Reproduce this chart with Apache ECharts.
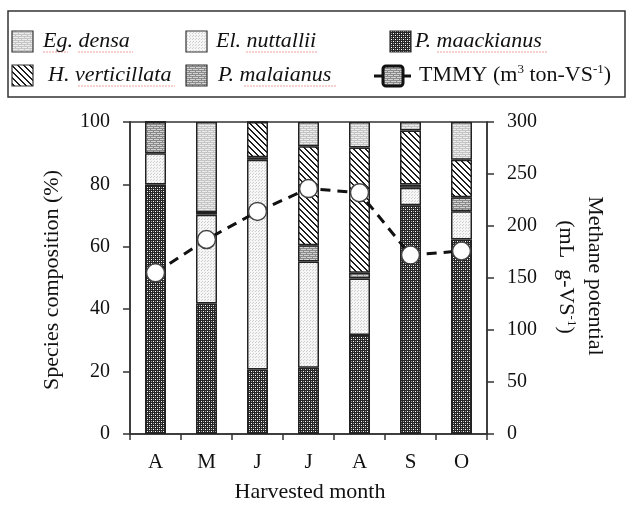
<!DOCTYPE html>
<html>
<head>
<meta charset="utf-8">
<script src="https://cdn.jsdelivr.net/npm/echarts@6/dist/echarts.min.js"></script>
<style>
    html, body { margin: 0; padding: 0; background: #fff; }
    #chart { width: 628px; height: 507px; }
</style>
</head>
<body>
<div id="chart"></div>
<script>
    var months = ['A', 'M', 'J', 'J', 'A', 'S', 'O'];
    // species composition (%), stacked bottom -> top
    var maackianus   = [80.0, 41.8, 20.7, 21.2, 31.7, 73.3, 62.3];
    var nuttallii    = [10.0, 28.5, 67.2, 34.1, 18.1,  5.6,  9.1];
    var malaianus    = [10.0,  0.8,  0.8,  5.2,  1.9,  1.1,  4.5];
    var verticillata = [ 0.0,  0.0, 11.3, 31.7, 40.1, 17.3, 12.0];
    var densa        = [ 0.0, 28.9,  0.0,  7.8,  8.2,  2.7, 12.1];
    // methane potential (mL g-VS-1)
    var tmmy = [155, 187, 214, 236, 232, 172, 176];
    var leftTicks = [0, 20, 40, 60, 80, 100];
    var rightTicks = [0, 50, 100, 150, 200, 250, 300];

    var serif = '"Liberation Serif", "DejaVu Serif", serif';

    // small canvas patterns for the bar fills
    function makePattern(w, h, draw) {
        var c = document.createElement('canvas');
        c.width = w;
        c.height = h;
        draw(c.getContext('2d'));
        return { image: c, repeat: 'repeat' };
    }
    var patMaack = makePattern(4, 4, function (g) {
        g.fillStyle = '#262626'; g.fillRect(0, 0, 4, 4);
        g.fillStyle = '#ffffff'; g.fillRect(1, 1, 1, 1); g.fillRect(3, 3, 1, 1);
        g.fillStyle = '#9a9a9a'; g.fillRect(1, 3, 1, 1); g.fillRect(3, 1, 1, 1);
    });
    var patNutt = makePattern(3, 3, function (g) {
        g.fillStyle = '#f6f6f6'; g.fillRect(0, 0, 3, 3);
        g.fillStyle = '#cfcfcf'; g.fillRect(0, 0, 1, 1); g.fillRect(1, 2, 1, 1);
    });
    var patMal = makePattern(6, 4, function (g) {
        g.fillStyle = '#d2d2d2'; g.fillRect(0, 0, 6, 4);
        g.fillStyle = '#8a8a8a';
        g.fillRect(0, 0, 6, 1); g.fillRect(0, 2, 6, 1);
        g.fillRect(0, 1, 1, 1); g.fillRect(3, 3, 1, 1);
    });
    var patVert = makePattern(6, 6, function (g) {
        g.fillStyle = '#ffffff'; g.fillRect(0, 0, 6, 6);
        g.fillStyle = '#1e1e1e';
        for (var i = 0; i < 6; i++) {
            g.fillRect(i, i, 1, 1);
            g.fillRect((i + 1) % 6, i, 1, 1);
        }
    });
    var patDensa = makePattern(6, 4, function (g) {
        g.fillStyle = '#ececec'; g.fillRect(0, 0, 6, 4);
        g.fillStyle = '#c4c4c4';
        g.fillRect(0, 0, 6, 1); g.fillRect(0, 2, 6, 1);
        g.fillRect(0, 1, 1, 1); g.fillRect(3, 3, 1, 1);
    });

    function barSeries(name, data, fill) {
        return {
            name: name,
            type: 'bar',
            stack: 'species',
            barWidth: 21,
            data: data,
            itemStyle: { color: fill, borderColor: '#222', borderWidth: 1.5 }
        };
    }

    function txt(x, y, text, opts) {
        opts = opts || {};
        return {
            type: 'text',
            x: x,
            y: y,
            rotation: opts.rotation || 0,
            style: {
                text: text,
                font: (opts.italic ? 'italic ' : '') + (opts.size || 22) + 'px ' + serif,
                fill: '#111',
                align: opts.align || 'left',
                textAlign: opts.align || 'left',
                verticalAlign: 'middle',
                textVerticalAlign: 'middle',
                rich: opts.rich
            }
        };
    }
    function swatch(x, y, fill) {
        return {
            type: 'rect',
            shape: { x: x, y: y, width: 21, height: 21 },
            style: { fill: fill, stroke: '#333', lineWidth: 1.2 }
        };
    }
    // faint spell-check underline seen under the species names
    function squiggle(x1, x2, y) {
        return {
            type: 'line',
            shape: { x1: x1, y1: y, x2: x2, y2: y },
            style: { stroke: '#f2a0a0', lineWidth: 1, lineDash: [2, 1] }
        };
    }

    var supRich = {
        a: { fontSize: 22, fontFamily: serif, lineHeight: 24, color: '#111' },
        s: { fontSize: 13, fontFamily: serif, lineHeight: 13, verticalAlign: 'top', color: '#111' }
    };

    var chart = echarts.init(document.getElementById('chart'));
    var option = {
        animation: false,
        grid: {
            left: 130, right: 141, top: 122, bottom: 73,
            show: true, borderColor: '#333', borderWidth: 1.5
        },
        xAxis: {
            type: 'category',
            data: months,
            boundaryGap: true,
            axisLine: { lineStyle: { color: '#333', width: 1.5 } },
            axisTick: { show: true, length: 6, interval: 0, lineStyle: { color: '#333', width: 1.5 } },
            axisLabel: { color: '#111', fontSize: 21, fontFamily: serif, margin: 18 }
        },
        yAxis: [
            {
                type: 'value', min: leftTicks[0], max: leftTicks[leftTicks.length - 1], interval: 20,
                splitLine: { show: false },
                axisLine: { show: true, lineStyle: { color: '#333', width: 1.5 } },
                axisTick: { show: true, length: 7, lineStyle: { color: '#333', width: 1.5 } },
                axisLabel: { color: '#111', fontSize: 20, fontFamily: serif, margin: 20 }
            },
            {
                type: 'value', min: rightTicks[0], max: rightTicks[rightTicks.length - 1], interval: 50,
                position: 'right',
                splitLine: { show: false },
                axisLine: { show: true, lineStyle: { color: '#333', width: 1.5 } },
                axisTick: { show: true, length: 7, lineStyle: { color: '#333', width: 1.5 } },
                axisLabel: { color: '#111', fontSize: 20, fontFamily: serif, margin: 20 }
            }
        ],
        series: [
            barSeries('P. maackianus', maackianus, patMaack),
            barSeries('El. nuttallii', nuttallii, patNutt),
            barSeries('P. malaianus', malaianus, patMal),
            barSeries('H. verticillata', verticillata, patVert),
            barSeries('Eg. densa', densa, patDensa),
            {
                name: 'TMMY',
                type: 'line',
                yAxisIndex: 1,
                data: tmmy,
                z: 5,
                symbol: 'circle',
                symbolSize: 18,
                lineStyle: { color: '#111', width: 3, type: [10, 7] },
                itemStyle: { color: '#fff', borderColor: '#444', borderWidth: 1.5 }
            }
        ],
        graphic: [
            // legend box
            { type: 'rect', shape: { x: 8, y: 11, width: 617, height: 86 },
              style: { fill: 'none', stroke: '#333', lineWidth: 1.5 } },
            squiggle(43, 68, 52), squiggle(78, 133, 52),
            squiggle(246, 317, 52), squiggle(437, 547, 52),
            squiggle(78, 175, 86), squiggle(244, 337, 86),
            swatch(12, 31, patDensa), txt(43, 41, 'Eg. densa', { italic: true }),
            swatch(186, 31, patNutt), txt(216, 41, 'El. nuttallii', { italic: true }),
            swatch(390, 31, patMaack), txt(415, 41, 'P. maackianus', { italic: true }),
            swatch(12, 65, patVert), txt(48, 75, 'H. verticillata', { italic: true }),
            swatch(186, 65, patMal), txt(218, 75, 'P. malaianus', { italic: true }),
            { type: 'line', shape: { x1: 374, y1: 76, x2: 411, y2: 76 },
              style: { stroke: '#111', lineWidth: 3 } },
            { type: 'rect', shape: { x: 383, y: 66, width: 20, height: 20, r: 3 },
              style: { fill: patMal, stroke: '#111', lineWidth: 3 } },
            txt(419, 75, '{a|TMMY (m}{s|3}{a| ton-VS}{s|-1}{a|)}', { rich: supRich }),
            // axis titles
            txt(52, 280, 'Species composition (%)', { rotation: Math.PI / 2, align: 'center' }),
            txt(595, 276, 'Methane potential', { rotation: -Math.PI / 2, align: 'center' }),
            txt(566, 277, '{a|(mL  g-VS}{s|-1}{a|)}', { rotation: -Math.PI / 2, align: 'center', rich: supRich }),
            txt(310, 492, 'Harvested month', { align: 'center' })
        ]
    };
    chart.setOption(option);
</script>
</body>
</html>
